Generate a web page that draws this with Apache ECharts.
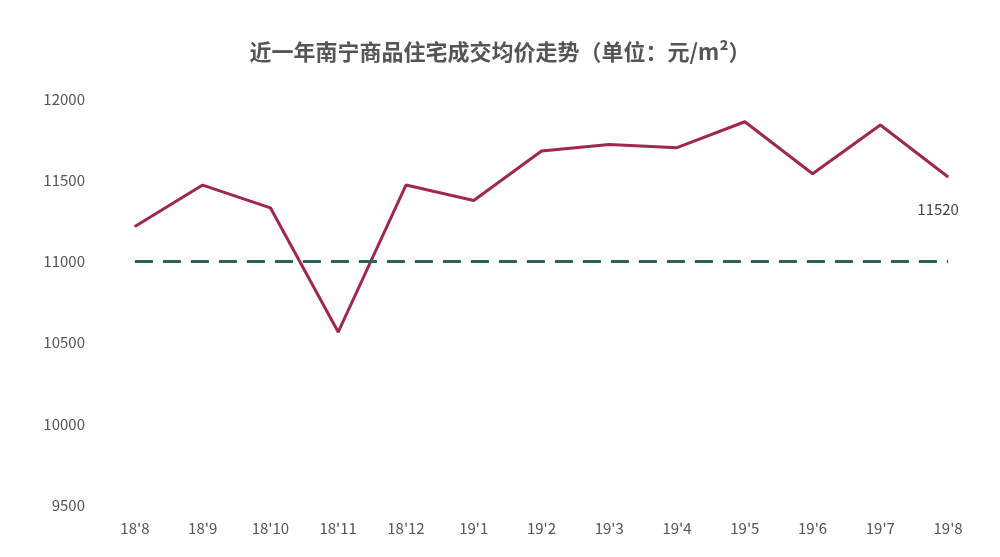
<!DOCTYPE html>
<html><head><meta charset="utf-8">
<script src="https://cdn.jsdelivr.net/npm/echarts@6/dist/echarts.min.js"></script>
<style>html,body{margin:0;padding:0;background:#fff}#c{width:1000px;height:557px}</style>
</head><body><div id="c"></div>
<script>
const categories = ["18'8","18'9","18'10","18'11","18'12","19'1","19'2","19'3","19'4","19'5","19'6","19'7","19'8"];
const prices = [11215,11470,11330,10565,11470,11375,11680,11720,11700,11860,11540,11840,11520];
const baselineValue = 11000;
const yTicks = {min:9500,max:12000,interval:500};
const chart = echarts.init(document.getElementById('c'));
const ff = '"Noto Sans CJK SC","Noto Sans",sans-serif';
chart.setOption({
  animation:false,
  title:{text:'近一年南宁商品住宅成交均价走势（单位：元/m²）',left:'center',top:36,
    textStyle:{fontSize:22,fontWeight:'bold',color:'#555',fontFamily:ff}},
  grid:{left:101,right:18,top:99,bottom:52},
  xAxis:{type:'category',data:categories,boundaryGap:true,
    axisLine:{show:false},axisTick:{show:false},
    axisLabel:{color:'#555',fontSize:15,margin:16,fontFamily:ff}},
  yAxis:{type:'value',min:yTicks.min,max:yTicks.max,interval:yTicks.interval,
    axisLine:{show:false},axisTick:{show:false},splitLine:{show:false},
    axisLabel:{color:'#555',fontSize:15,margin:16,fontFamily:ff,formatter:v=>String(v)}},
  series:[
    {type:'line',symbol:'circle',symbolSize:1,
      data:prices.map((v,i)=>i===prices.length-1?{value:v,label:{show:true}}:v),
      lineStyle:{color:'#a0284a',width:3},itemStyle:{color:'#a0284a'},
      label:{show:false,position:'bottom',distance:24,color:'#444',fontSize:15,fontFamily:ff,offset:[-10,0]},
      markLine:{silent:true,symbol:'none',label:{show:false},
        lineStyle:{color:'#2e5f5a',width:3,type:[18,10]},
        data:[[{xAxis:-0.4,yAxis:baselineValue},{xAxis:12.2,yAxis:baselineValue}]]}}
  ]
});
</script></body></html>
